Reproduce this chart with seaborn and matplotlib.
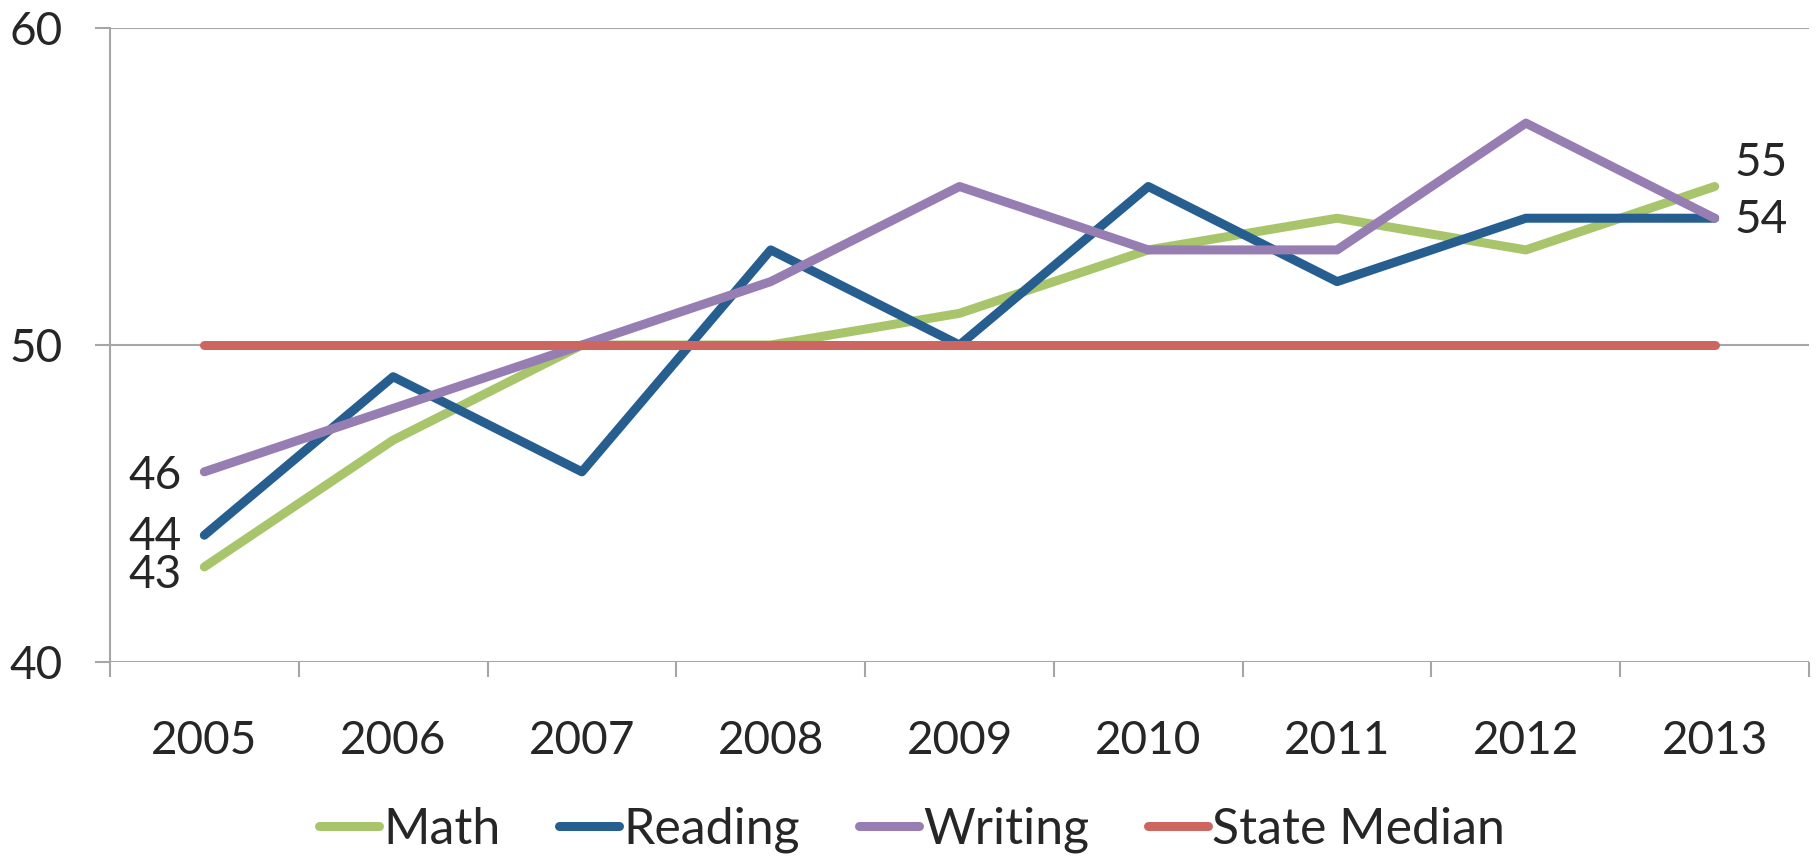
import numpy as np
import pandas as pd
import seaborn as sns
import matplotlib.pyplot as plt
from matplotlib.ticker import FixedLocator

# data
years = [2005, 2006, 2007, 2008, 2009, 2010, 2011, 2012, 2013]
math = [43, 47, 50, 50, 51, 53, 54, 53, 55]
reading = [44, 49, 46, 53, 50, 55, 52, 54, 54]
writing = [46, 48, 50, 52, 55, 53, 53, 57, 54]
state_median = [50, 50, 50, 50, 50, 50, 50, 50, 50]

series_names = ['Math', 'Reading', 'Writing', 'State Median']
colors = ['#a9c56b', '#275e90', '#967db2', '#cd6660']

sns.set_style('white')
plt.rcParams['font.family'] = ['Lato', 'DejaVu Sans']
FS = 33
GRID = '#a6a6a6'

df = pd.concat([
    pd.DataFrame({'year': years, 'score': vals, 'subject': name})
    for name, vals in zip(series_names, [math, reading, writing, state_median])
])

fig = plt.figure(figsize=(18.2, 8.59), dpi=100)
ax = fig.add_axes([0.0604, 0.2293, 0.9336, 0.7381])

sns.lineplot(data=df, x='year', y='score', hue='subject', hue_order=series_names,
             palette=colors, linewidth=6.5, solid_capstyle='round', ax=ax)

ax.set_xlim(years[0] - 0.5, years[-1] + 0.5)
ax.set_ylim(40, 60)
ax.set_yticks([40, 50, 60])
ax.set_xticks(years)
ax.set_xticklabels([str(y) for y in years])
ax.xaxis.set_minor_locator(FixedLocator(np.arange(years[0] - 0.5, years[-1] + 1, 1.0)))
ax.set_xlabel('')
ax.set_ylabel('')

ax.yaxis.grid(True, color=GRID, lw=1.5)
ax.set_axisbelow(True)
for s in ['top', 'right', 'bottom']:
    ax.spines[s].set_visible(False)
ax.spines['left'].set_color(GRID)
ax.spines['left'].set_linewidth(1.5)

ax.tick_params(axis='y', which='major', direction='out', length=11, width=1.5,
               color=GRID, labelsize=FS, pad=23, left=True)
ax.tick_params(axis='x', which='major', length=0, labelsize=FS, pad=42)
ax.tick_params(axis='x', which='minor', direction='out', length=11, width=1.5,
               color=GRID, bottom=True)

# end-point labels
first, last = years[0], years[-1]
for val, dy in [(writing[0], -3), (reading[0], -1), (math[0], -5.5)]:
    ax.annotate(str(val), xy=(first, val), xytext=(-16.5, dy), textcoords='offset points',
                ha='right', va='center', fontsize=FS)
for val, dy in [(math[-1], 17), (reading[-1], -1.5)]:
    ax.annotate(str(val), xy=(last, val), xytext=(14, dy), textcoords='offset points',
                ha='left', va='center', fontsize=FS)

handles, labels = ax.get_legend_handles_labels()
ax.get_legend().remove()
leg = fig.legend(handles, labels, loc='center', bbox_to_anchor=(0.501, 0.034), ncol=4,
                 frameon=False, fontsize=36, handlelength=1.2, handletextpad=0.08,
                 columnspacing=1.18)
for h in leg.legend_handles:
    h.set_linewidth(6.5)
    h.set_solid_capstyle('round')

fig.savefig('out.png', dpi=100)
